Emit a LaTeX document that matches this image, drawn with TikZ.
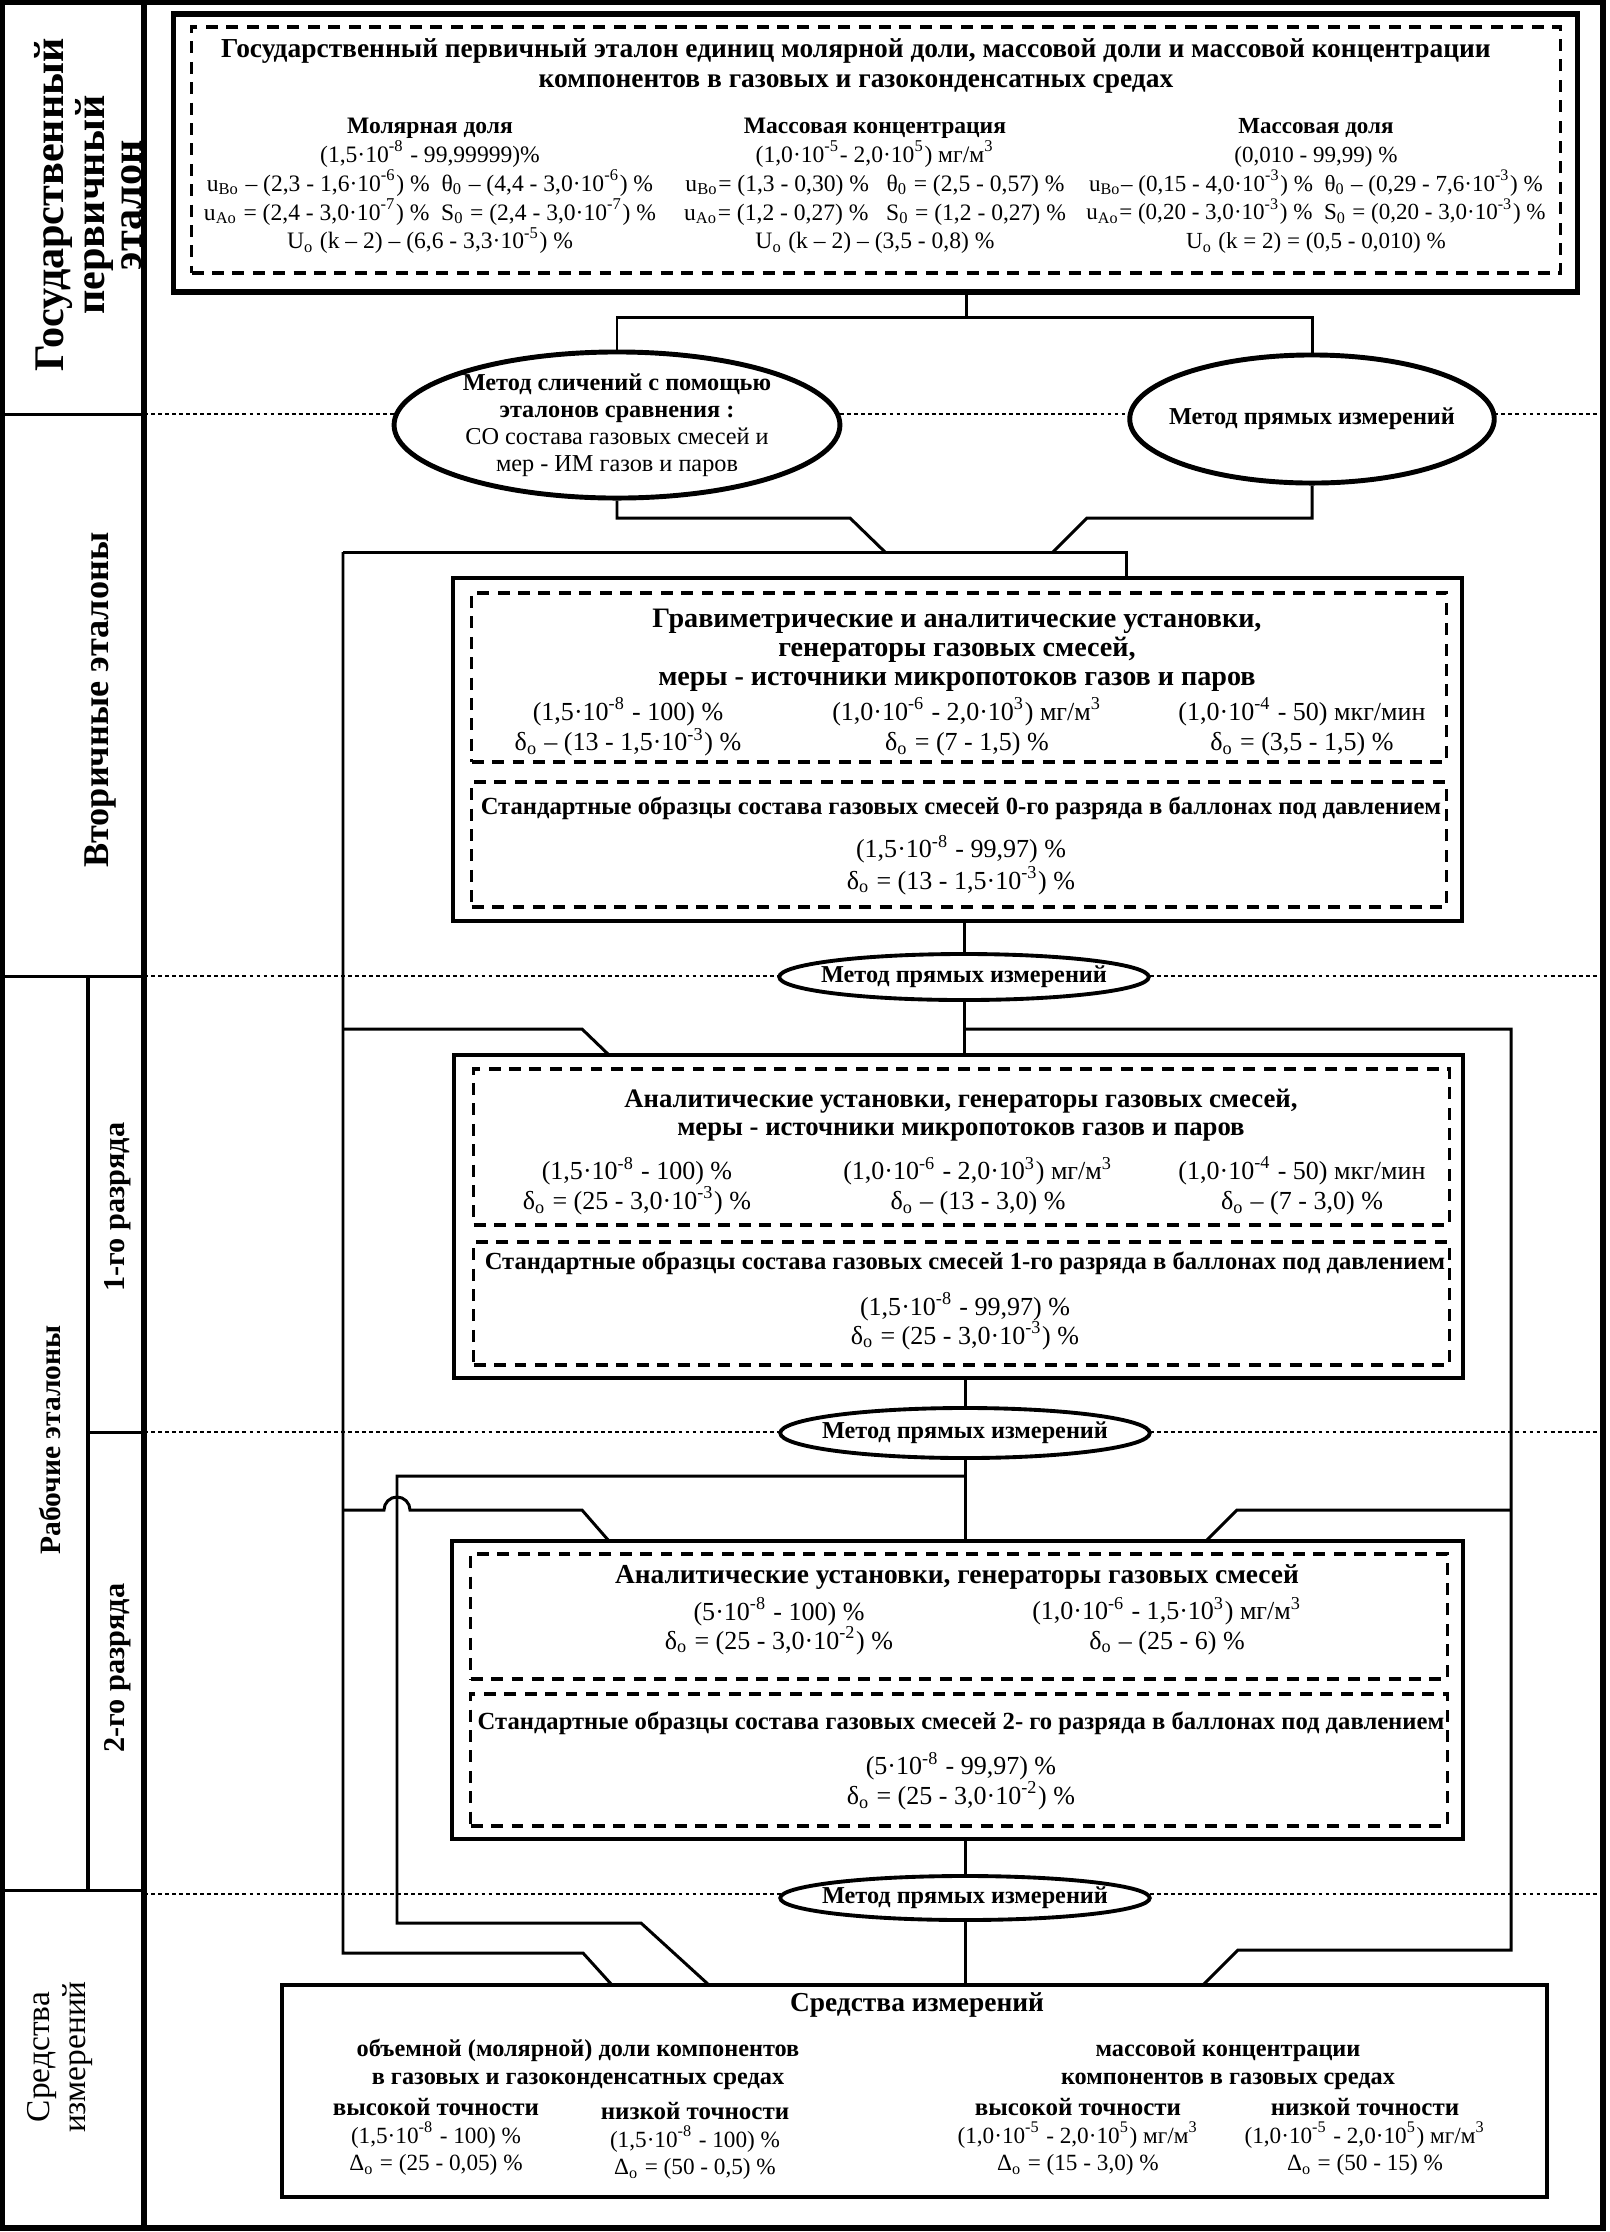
\documentclass[tikz,border=0pt]{standalone}
\usepackage{fontspec}
\setmainfont{Liberation Serif}
\usetikzlibrary{shapes.geometric,positioning}
\newcommand\fs[2]{\fontsize{#1}{#2}\selectfont}
\newcommand\tenp[1]{·10\textsuperscript{#1}}
\newcommand\ix[1]{\textsubscript{#1}}
\tikzset{
  frm/.style={draw, line width=1.8pt},
  bbox/.style={rectangle, draw, line width=1.1pt, inner sep=0pt},
  dbox/.style={rectangle, draw, line width=1pt, dash pattern=on 3.4pt off 2.4pt, inner sep=0pt},
  txt/.style={align=center, inner sep=0pt},
  ttl/.style={txt, font=\bfseries\fs{8}{8.3}},
  sot/.style={txt, font=\bfseries\fs{7}{8}},
  dat/.style={txt, font=\fs{7.4}{8.6}},
  meth/.style={ellipse, draw, fill=white, line width=1.1pt, inner sep=0pt, align=center, font=\bfseries\fs{6.9}{7.7}},
  lnk/.style={line width=0.85pt},
  sep/.style={line width=0.8pt, dash pattern=on 1.1pt off 0.9pt},
  side/.style={txt, rotate=90}
}

\begin{document}
\begin{tikzpicture}[x=0.01cm, y=-0.01cm]
\useasboundingbox (0,0) rectangle (1610,2232);
\draw[frm] (2,2) rectangle (1603,2228);
\draw[frm] (144,2) -- (144,2228);
\draw[lnk] (2,414) -- (144,414) (2,976) -- (144,976) (2,1890) -- (144,1890) (88,1432) -- (144,1432);
\draw[line width=1.2pt] (88,976) -- (88,1890);
\foreach \yy in {414,976,1432,1894} \draw[sep] (144,\yy) -- (1603,\yy);

\node[side, font=\bfseries\fs{12}{10.5}] (lblGpe) at (88,205) {Государственный\\первичный\\эталон};
\node[side, font=\bfseries\fs{10.3}{12}] (lblSec) at (100,700) {Вторичные эталоны};
\node[side, font=\bfseries\fs{8.4}{10}] (lblWork) at (50,1440) {Рабочие эталоны};
\node[side, font=\bfseries\fs{8.6}{9}] (lblR1) at (118,1207) {1-го разряда};
\node[side, font=\bfseries\fs{8.6}{9}] (lblR2) at (118,1668) {2-го разряда};
\node[side, font=\fs{9.5}{10}] (lblMeas) at (60,2057) {Средства\\измерений};

\node[bbox, line width=1.5pt, minimum width=14.03cm, minimum height=2.78cm] (gpe) at (875.5,153) {};
\node[dbox, minimum width=13.68cm, minimum height=2.46cm] (gpeIn) at (876,150) {};
\node[txt, font=\bfseries\fs{7.8}{8.6}] (gpeTtl) at (856,66) {Государственный первичный эталон единиц молярной доли, массовой доли и массовой концентрации\\компонентов в газовых и газоконденсатных средах};
\node[txt, font=\fs{6.7}{8.2}] (gpeMol) at (430,186) {\textbf{Молярная доля}\\(1,5\tenp{-8} - 99,99999)\%\\u\ix{Bo} – (2,3 - 1,6\tenp{-6}) \%~~θ\ix{0} – (4,4 - 3,0\tenp{-6}) \%\\u\ix{Ao} = (2,4 - 3,0\tenp{-7}) \%~~S\ix{0} = (2,4 - 3,0\tenp{-7}) \%\\U\ix{o} (k – 2) – (6,6 - 3,3\tenp{-5}) \%};
\node[txt, font=\fs{6.7}{8.2}] (gpeConc) at (875,186) {\textbf{Массовая концентрация}\\(1,0\tenp{-5}- 2,0\tenp{5}) мг/м\textsuperscript{3}\\u\ix{Bo}= (1,3 - 0,30) \%~~~θ\ix{0} = (2,5 - 0,57) \%\\u\ix{Ao}= (1,2 - 0,27) \%~~~S\ix{0} = (1,2 - 0,27) \%\\U\ix{o} (k – 2) – (3,5 - 0,8) \%};
\node[txt, font=\fs{6.55}{8.2}] (gpeMass) at (1316,186) {\textbf{Массовая доля}\\(0,010 - 99,99) \%\\u\ix{Bo}– (0,15 - 4,0\tenp{-3}) \%~~θ\ix{0} – (0,29 - 7,6\tenp{-3}) \%\\u\ix{Ao}= (0,20 - 3,0\tenp{-3}) \%~~S\ix{0} = (0,20 - 3,0\tenp{-3}) \%\\U\ix{o} (k = 2) = (0,5 - 0,010) \%};

\node[meth, line width=1.4pt, inner xsep=1pt, minimum width=4.44cm, minimum height=1.46cm] (ellL) at (617,425) {Метод сличений с помощью\\эталонов сравнения :\\\mdseries СО состава газовых смесей и\\\mdseries мер - ИМ газов и паров};
\node[meth, line width=1.4pt, inner xsep=-4pt, minimum width=3.6cm, minimum height=1.28cm] (ellR) at (1312,419) {Метод прямых измерений};

\node[bbox, minimum width=10.09cm, minimum height=3.43cm] (sec) at (957.5,749.5) {};
\node[dbox, minimum width=9.74cm, minimum height=1.69cm] (secA) at (959,677.5) {};
\node[dbox, minimum width=9.74cm, minimum height=1.25cm] (secB) at (959,844.5) {};
\node[ttl] (secTtl) at (957,650) {Гравиметрические и аналитические установки,\\генераторы газовых смесей,\\меры - источники микропотоков газов и паров};
\node[dat] (secC1) at (628,727) {(1,5\tenp{-8} - 100) \%\\δ\ix{o} – (13 - 1,5\tenp{-3}) \%};
\node[dat] (secC2) at (967,727) {(1,0\tenp{-6} - 2,0\tenp{3}) мг/м\textsuperscript{3}\\δ\ix{o} = (7 - 1,5) \%};
\node[dat] (secC3) at (1302,727) {(1,0\tenp{-4} - 50) мкг/мин\\δ\ix{o} = (3,5 - 1,5) \%};
\node[sot] (secSo) at (961,808) {Стандартные образцы состава газовых смесей 0-го разряда в баллонах под давлением};
\node[dat, font=\fs{7.4}{8}] (secSoD) at (961,865) {(1,5\tenp{-8} - 99,97) \%\\δ\ix{o} = (13 - 1,5\tenp{-3}) \%};

\node[meth, inner xsep=-3.5pt, minimum width=3.64cm, minimum height=0.46cm] (m1) at (964,977) {Метод прямых измерений};

\node[bbox, minimum width=10.09cm, minimum height=3.23cm] (r1) at (958.5,1216.5) {};
\node[dbox, minimum width=9.75cm, minimum height=1.56cm] (r1A) at (961.5,1147) {};
\node[dbox, minimum width=9.75cm, minimum height=1.23cm] (r1B) at (961.5,1303.5) {};
\node[ttl, font=\bfseries\fs{7.6}{8}] (r1Ttl) at (961,1115) {Аналитические установки, генераторы газовых смесей,\\меры - источники микропотоков газов и паров};
\node[dat, font=\fs{7.4}{8.5}] (r1C1) at (637,1186) {(1,5\tenp{-8} - 100) \%\\δ\ix{o} = (25 - 3,0\tenp{-3}) \%};
\node[dat, font=\fs{7.4}{8.5}] (r1C2) at (978,1186) {(1,0\tenp{-6} - 2,0\tenp{3}) мг/м\textsuperscript{3}\\δ\ix{o} – (13 - 3,0) \%};
\node[dat, font=\fs{7.4}{8.5}] (r1C3) at (1302,1186) {(1,0\tenp{-4} - 50) мкг/мин\\δ\ix{o} – (7 - 3,0) \%};
\node[sot] (r1So) at (965,1263) {Стандартные образцы состава газовых смесей 1-го разряда в баллонах под давлением};
\node[dat, font=\fs{7.4}{8.3}] (r1SoD) at (965,1321) {(1,5\tenp{-8} - 99,97) \%\\δ\ix{o} = (25 - 3,0\tenp{-3}) \%};

\node[meth, inner xsep=-3.5pt, minimum width=3.6cm, minimum height=0.5cm] (m2) at (965,1433) {Метод прямых измерений};

\node[bbox, minimum width=10.11cm, minimum height=2.98cm] (r2) at (957.5,1690) {};
\node[dbox, minimum width=9.76cm, minimum height=1.25cm] (r2A) at (959,1616.5) {};
\node[dbox, minimum width=9.76cm, minimum height=1.32cm] (r2B) at (959,1760) {};
\node[ttl, font=\bfseries\fs{7.8}{8}] (r2Ttl) at (957,1577) {Аналитические установки, генераторы газовых смесей};
\node[dat, font=\fs{7.4}{8.3}] (r2C1) at (779,1626) {(5\tenp{-8} - 100) \%\\δ\ix{o} = (25 - 3,0\tenp{-2}) \%};
\node[dat, font=\fs{7.4}{8.3}] (r2C2) at (1167,1626) {(1,0\tenp{-6} - 1,5\tenp{3}) мг/м\textsuperscript{3}\\δ\ix{o} – (25 - 6) \%};
\node[sot] (r2So) at (961,1723) {Стандартные образцы состава газовых смесей 2- го разряда в баллонах под давлением};
\node[dat, font=\fs{7.4}{8.5}] (r2SoD) at (961,1781) {(5\tenp{-8} - 99,97) \%\\δ\ix{o} = (25 - 3,0\tenp{-2}) \%};

\node[meth, inner xsep=-3.5pt, minimum width=3.62cm, minimum height=0.44cm] (m3) at (965,1898) {Метод прямых измерений};

\node[bbox, minimum width=12.65cm, minimum height=2.12cm] (meas) at (914.5,2091) {};
\node[ttl, font=\bfseries\fs{7.8}{9}] (measTtl) at (917,2005) {Средства измерений};
\node[ttl, font=\bfseries\fs{6.9}{8}] (measHL) at (578,2064) {объемной (молярной) доли компонентов\\в газовых и газоконденсатных средах};
\node[ttl, font=\bfseries\fs{6.9}{8}] (measHR) at (1228,2065) {массовой концентрации\\компонентов в газовых средах};
\node[dat, font=\fs{6.6}{7.8}] (measA) at (436,2137) {{\bfseries\fs{7.1}{7.8}высокой точности}\\(1,5\tenp{-8} - 100) \%\\Δ\ix{o} = (25 - 0,05) \%};
\node[dat, font=\fs{6.6}{7.8}] (measB) at (695,2141) {{\bfseries\fs{7.1}{7.8}низкой точности}\\(1,5\tenp{-8} - 100) \%\\Δ\ix{o} = (50 - 0,5) \%};
\node[dat, font=\fs{6.6}{7.8}] (measC) at (1078,2137) {{\bfseries\fs{7.1}{7.8}высокой точности}\\(1,0\tenp{-5} - 2,0\tenp{5}) мг/м\textsuperscript{3}\\Δ\ix{o} = (15 - 3,0) \%};
\node[dat, font=\fs{6.6}{7.8}] (measD) at (1365,2137) {{\bfseries\fs{7.1}{7.8}низкой точности}\\(1,0\tenp{-5} - 2,0\tenp{5}) мг/м\textsuperscript{3}\\Δ\ix{o} = (50 - 15) \%};

\coordinate (j0) at (966,317);
\coordinate (jL) at (850,518);
\coordinate (jR) at (1087,518);
\coordinate (b1) at (885,552);
\coordinate (b2) at (1053,552);
\coordinate (busL) at (343,552);
\coordinate (busR) at (1126,552);
\coordinate (oA) at (582,1029);
\coordinate (oB) at (582,1510);
\coordinate (oC) at (583,1953);
\coordinate (iA) at (397,1476);
\coordinate (iB) at (641,1923);
\coordinate (rA) at (1511,1029);
\coordinate (rB) at (1237,1510);
\coordinate (rC) at (1238,1950);
\coordinate (e1) at (609,1055);
\coordinate (e2) at (609,1541);
\coordinate (e3) at (612,1985);
\coordinate (e4) at (709,1985);
\coordinate (e5) at (1206,1541);
\coordinate (e6) at (1203,1985);

\draw[lnk] (j0 |- gpe.south) -- (j0);
\draw[lnk] (ellL.north) |- (j0) -| (ellR.north);
\draw[lnk] (ellL.south) |- (jL) -- (b1);
\draw[lnk] (ellR.south) |- (jR) -- (b2);
\draw[lnk] (busL) -- (busR) -- (busR |- sec.north);
\draw[lnk] (busL) |- (oC) -- (e3);
\draw[lnk] (busL |- oA) -- (oA) -- (e1);
\draw[lnk] (busL |- oB) -- ([xshift=-0.13cm]iA |- oB) arc[start angle=180, end angle=0, radius=0.13cm] -- (oB) -- (e2);
\draw[lnk] (m1.north |- sec.south) -- (m1.north);
\draw[lnk] (m1.south) -- (m1.south |- r1.north);
\draw[lnk] (m1.south |- rA) -- (rA) |- (rC) -- (e6);
\draw[lnk] (rA |- rB) -- (rB) -- (e5);
\draw[lnk] (m2.north |- r1.south) -- (m2.north);
\draw[lnk] (m2.south) -- (m2.south |- r2.north);
\draw[lnk] (m2.south |- iA) -- (iA) |- (iB) -- (e4);
\draw[lnk] (m3.north |- r2.south) -- (m3.north);
\draw[lnk] (m3.south) -- (m3.south |- meas.north);
\end{tikzpicture}
\end{document}
